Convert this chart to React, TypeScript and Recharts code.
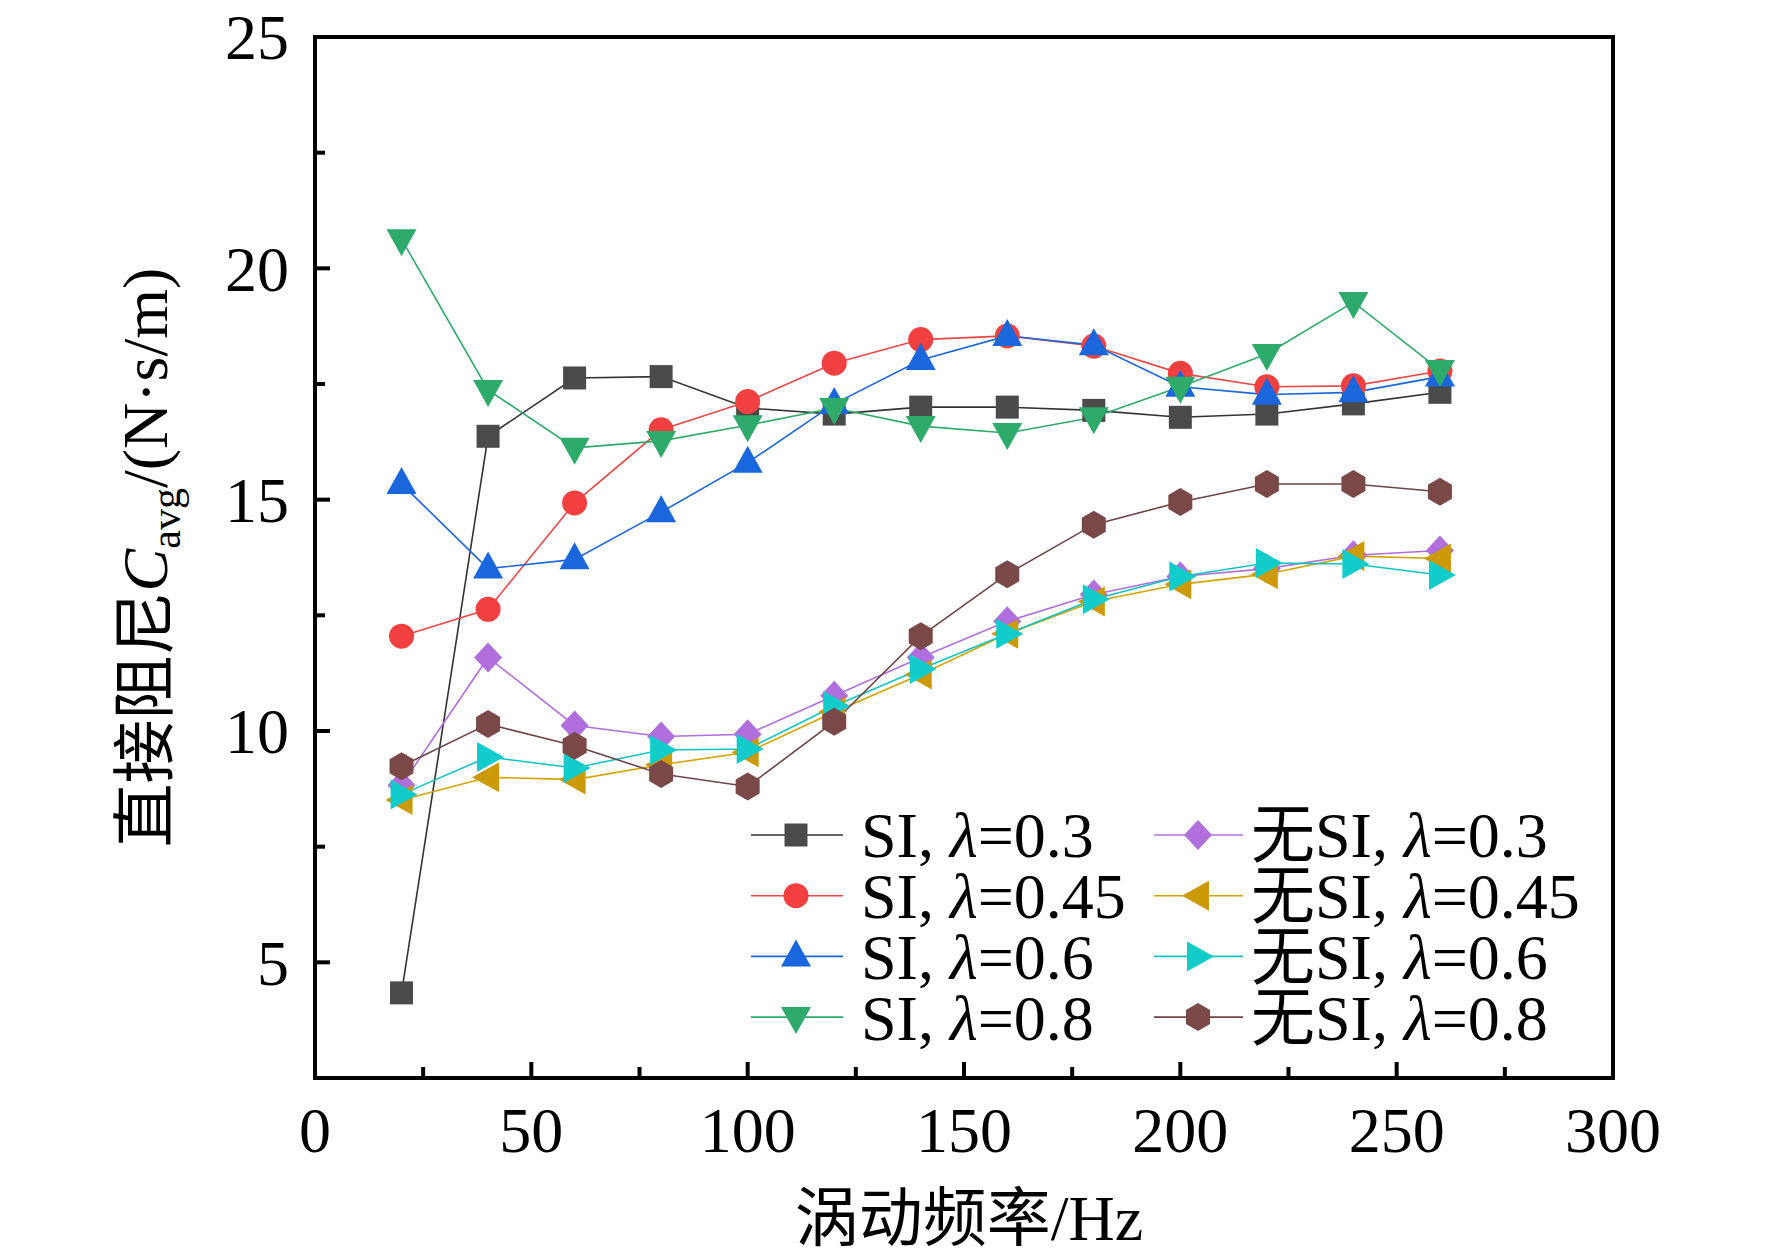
import React from 'react'
import { LineChart, Line, XAxis, YAxis, ReferenceArea, Legend } from 'recharts'

const FONT = "'Liberation Serif', 'Times New Roman', 'Noto Sans CJK SC', serif"

// 涡动频率 (Hz)
const freq = [20, 40, 60, 80, 100, 120, 140, 160, 180, 200, 220, 240, 260]

// 直接阻尼 C_avg
const siL03 = [4.34, 16.37, 17.63, 17.66, 16.98, 16.85, 17.0, 17.0, 16.93, 16.78, 16.85, 17.07, 17.32]
const siL045 = [12.05, 12.63, 14.93, 16.51, 17.12, 17.95, 18.46, 18.54, 18.32, 17.73, 17.44, 17.46, 17.78]
const siL06 = [15.34, 13.51, 13.71, 14.73, 15.8, 17.07, 18.02, 18.54, 18.34, 17.44, 17.27, 17.32, 17.66]
const siL08 = [20.63, 17.37, 16.12, 16.27, 16.61, 16.98, 16.59, 16.44, 16.78, 17.44, 18.15, 19.27, 17.8]
const noL03 = [8.83, 11.59, 10.12, 9.88, 9.93, 10.76, 11.59, 12.37, 12.95, 13.34, 13.51, 13.8, 13.9]
const noL045 = [8.51, 9.0, 8.95, 9.27, 9.54, 10.41, 11.22, 12.1, 12.8, 13.17, 13.39, 13.78, 13.73]
const noL06 = [8.63, 9.44, 9.2, 9.59, 9.61, 10.54, 11.34, 12.1, 12.85, 13.34, 13.63, 13.61, 13.37]
const noL08 = [9.24, 10.15, 9.68, 9.07, 8.8, 10.2, 12.05, 13.39, 14.46, 14.95, 15.34, 15.34, 15.17]

const xTicks = [0, 25, 50, 75, 100, 125, 150, 175, 200, 225, 250, 275, 300]
const yTicks = [5, 7.5, 10, 12.5, 15, 17.5, 20, 22.5, 25]

const series = [
  { key: 's03', prefix: 'SI, ', lam: '0.3', values: siL03, color: '#4a4a4a', line: '#333333', shape: 'square' },
  { key: 's045', prefix: 'SI, ', lam: '0.45', values: siL045, color: '#f23f3f', line: '#e84848', shape: 'circle' },
  { key: 's06', prefix: 'SI, ', lam: '0.6', values: siL06, color: '#1a66dd', line: '#1a66dd', shape: 'up' },
  { key: 's08', prefix: 'SI, ', lam: '0.8', values: siL08, color: '#2eaa6a', line: '#2eaa6a', shape: 'down' },
  { key: 'n03', prefix: '无SI, ', lam: '0.3', values: noL03, color: '#b06fdc', line: '#b06fdc', shape: 'diamond' },
  { key: 'n045', prefix: '无SI, ', lam: '0.45', values: noL045, color: '#cc9a06', line: '#d4a400', shape: 'left' },
  { key: 'n06', prefix: '无SI, ', lam: '0.6', values: noL06, color: '#12cccc', line: '#12c4c4', shape: 'right' },
  { key: 'n08', prefix: '无SI, ', lam: '0.8', values: noL08, color: '#7b4848', line: '#6e4444', shape: 'hex' },
]

const rows = freq.map((f, i) => {
  const r: Record<string, number> = { f }
  series.forEach((s) => (r[s.key] = s.values[i]))
  return r
})

function Marker({ cx, cy, shape, color }: any) {
  if (cx == null || cy == null) return null
  const p = (pts: number[][]) => pts.map(([dx, dy]) => `${cx + dx},${cy + dy}`).join(' ')
  switch (shape) {
    case 'square':
      return <rect x={cx - 11.5} y={cy - 11.5} width={23} height={23} fill={color} />
    case 'circle':
      return <circle cx={cx} cy={cy} r={12.5} fill={color} />
    case 'up':
      return <polygon points={p([[0, -17], [15, 10], [-15, 10]])} fill={color} />
    case 'down':
      return <polygon points={p([[-15, -10], [15, -10], [0, 17]])} fill={color} />
    case 'diamond':
      return <polygon points={p([[0, -15], [14, 0], [0, 15], [-14, 0]])} fill={color} />
    case 'left':
      return <polygon points={p([[-16, 0], [11, -15], [11, 15]])} fill={color} />
    case 'right':
      return <polygon points={p([[16, 0], [-11, -15], [-11, 15]])} fill={color} />
    case 'hex':
      return <polygon points={p([[0, -14], [12, -7], [12, 7], [0, 14], [-12, 7], [-12, -7]])} fill={color} />
  }
  return null
}

function YTick({ x, y, payload }: any) {
  const v = payload.value
  const major = v % 5 === 0
  return (
    <g>
      <line x1={x} x2={x + (major ? 15 : 10)} y1={y} y2={y} stroke="#000" strokeWidth={4} />
      {major && (
        <text x={x - 26} y={y} dy="0.35em" textAnchor="end" fontSize={64} fontFamily={FONT} fill="#000">
          {v}
        </text>
      )}
    </g>
  )
}

function XTick({ x, y, payload }: any) {
  const v = payload.value
  const major = v % 50 === 0
  return (
    <g>
      <line x1={x} x2={x} y1={y} y2={y - (major ? 16 : 11)} stroke="#000" strokeWidth={4} />
      {major && (
        <text x={x} y={y + 29} dy="0.71em" textAnchor="middle" fontSize={64} fontFamily={FONT} fill="#000">
          {v}
        </text>
      )}
    </g>
  )
}

function YTitle(props: any) {
  const vb = props.viewBox || { x: 0, y: 37, width: 315, height: 1041 }
  const cx = vb.x + 145
  const cy = vb.y + vb.height / 2
  return (
    <text transform={`translate(${cx},${cy}) rotate(-90)`} textAnchor="middle" dy="0.35em" fontSize={64} fontFamily={FONT} fill="#000">
      直接阻尼<tspan fontStyle="italic">C</tspan>
      <tspan fontSize={42} dy={13}>avg</tspan>
      <tspan dy={-13}>/(N·s/m)</tspan>
    </text>
  )
}

function XTitle(props: any) {
  const vb = props.viewBox || { x: 315, y: 1078, width: 1298, height: 177 }
  return (
    <text x={vb.x + vb.width / 2 + 5} y={vb.y + 140} dy="0.35em" textAnchor="middle" fontSize={64} fontFamily={FONT} fill="#000">
      涡动频率/Hz
    </text>
  )
}

function LegendBox() {
  const cols = [
    { line: [11, 103], mark: 56, text: 121 },
    { line: [414, 503], mark: 458, text: 511 },
  ]
  return (
    <svg width={880} height={270}>
      {series.map((s, i) => {
        const c = cols[Math.floor(i / 4)]
        const cy = 45 + (i % 4) * 60.7
        return (
          <g key={s.key}>
            <line x1={c.line[0]} x2={c.line[1]} y1={cy} y2={cy} stroke={s.line} strokeWidth={1.6} />
            <Marker cx={c.mark} cy={cy} shape={s.shape} color={s.color} />
            <text x={c.text} y={cy} dy="0.35em" fontSize={64} fontFamily={FONT} fill="#000">
              {s.prefix}
              <tspan fontStyle="italic">λ</tspan>={s.lam}
            </text>
          </g>
        )
      })}
    </svg>
  )
}

export default function App() {
  return (
    <div style={{ width: 1772, height: 1255, background: '#fff' }}>
      <style>{'body{margin:0}'}</style>
      <LineChart width={1772} height={1255} data={rows} margin={{ top: 37, right: 159, bottom: 0, left: 0 }}>
        <XAxis
          type="number"
          dataKey="f"
          domain={[0, 300]}
          ticks={xTicks}
          interval={0}
          height={177}
          tickSize={0}
          tickMargin={0}
          axisLine={false}
          tick={<XTick />}
          label={<XTitle />}
        />
        <YAxis
          type="number"
          domain={[2.5, 25]}
          ticks={yTicks}
          interval={0}
          width={315}
          tickSize={0}
          tickMargin={0}
          axisLine={false}
          tick={<YTick />}
          label={<YTitle />}
          allowDataOverflow
        />
        <ReferenceArea x1={0} x2={300} y1={2.5} y2={25} fill="none" stroke="#000" strokeWidth={4} ifOverflow="visible" />
        {series.map((s) => (
          <Line
            key={s.key}
            type="linear"
            dataKey={s.key}
            name={s.prefix + 'λ=' + s.lam}
            stroke={s.line}
            strokeWidth={1.6}
            dot={(p: any) => <Marker key={s.key + p.index} cx={p.cx} cy={p.cy} shape={s.shape} color={s.color} />}
            activeDot={false}
            isAnimationActive={false}
          />
        ))}
        <Legend
          layout="vertical"
          align="center"
          verticalAlign="middle"
          content={() => <LegendBox />}
          wrapperStyle={{ position: 'absolute', left: 740, top: 790, width: 880, height: 270 }}
        />
      </LineChart>
    </div>
  )
}
